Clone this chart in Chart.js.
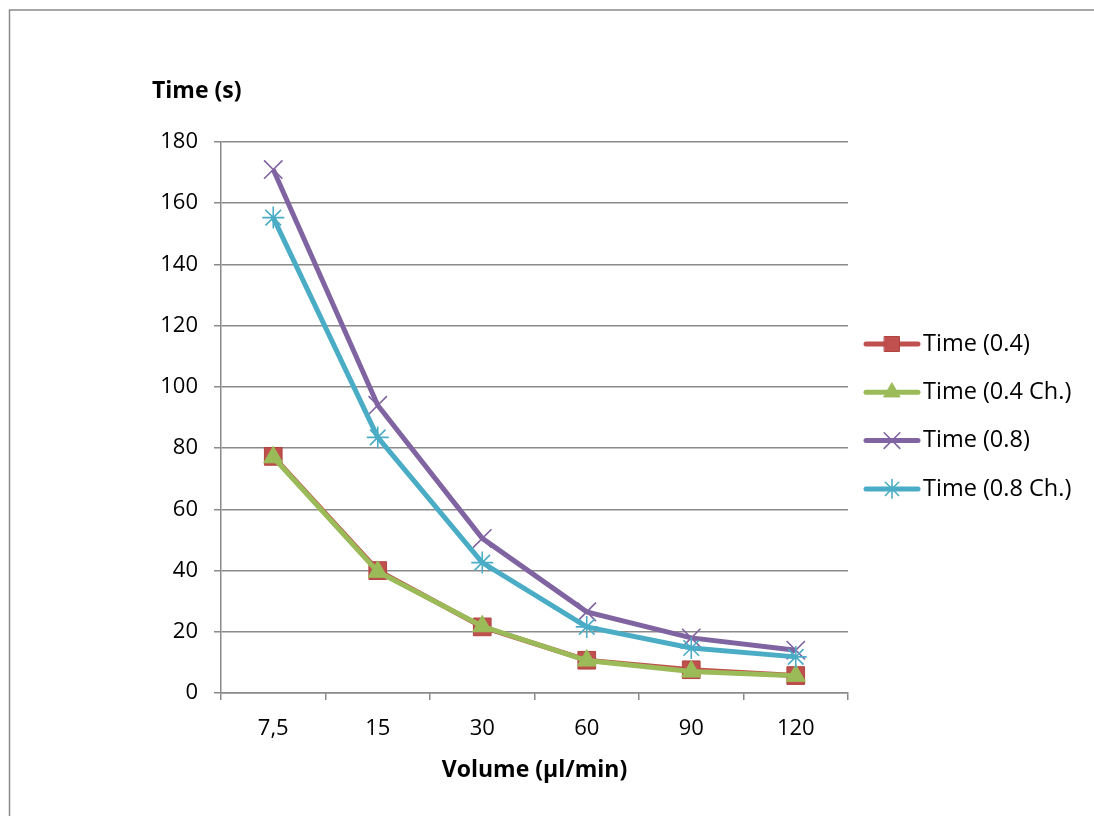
<!DOCTYPE html>
<html>
<head>
<meta charset="utf-8">
<script src="https://cdn.jsdelivr.net/npm/chart.js@4/dist/chart.umd.min.js"></script>
<style>
  html, body { margin: 0; padding: 0; background: #fff; }
  #wrap { width: 1094px; height: 816px; }
</style>
</head>
<body>
<div id="wrap"><canvas id="myChart-time" width="1094" height="816"></canvas></div>
<script>
const volumes = ["7,5", "15", "30", "60", "90", "120"];
const time04 = [77.3, 40, 21.6, 10.7, 7.6, 5.7];
const time04ch = [77, 39.6, 21.8, 10.6, 7.0, 5.6];
const time08 = [171, 94, 50.5, 26.5, 18, 14];
const time08ch = [155.3, 83.5, 42.6, 21.6, 14.7, 11.8];
const yTicks = [0, 20, 40, 60, 80, 100, 120, 140, 160, 180];

const FONT = "'Open Sans', 'DejaVu Sans', sans-serif";

const series = [
  { label: "Time (0.4)", data: time04, color: "#C0504D", border: "#B04440", style: "rect", radius: 12.5, width: 1, order: 4 },
  { label: "Time (0.4 Ch.)", data: time04ch, color: "#9BBB59", border: "#9BBB59", style: "triangle", radius: 11, width: 1, order: 3 },
  { label: "Time (0.8)", data: time08, color: "#8064A2", border: "#8064A2", style: "crossRot", radius: 13, width: 1.6, order: 2 },
  { label: "Time (0.8 Ch.)", data: time08ch, color: "#4BACC6", border: "#4BACC6", style: "star", radius: 11, width: 1.6, order: 1 },
];

// frame, axis titles and the Excel-like legend
const decor = {
  id: "decor",
  beforeDraw(chart) {
    const ctx = chart.ctx;
    ctx.save();
    ctx.strokeStyle = "#8a8a8a";
    ctx.lineWidth = 1.5;
    ctx.beginPath();
    ctx.moveTo(9.5, 816);
    ctx.lineTo(9.5, 10);
    ctx.lineTo(1094, 10);
    ctx.stroke();
    ctx.restore();
  },
  afterDraw(chart) {
    const ctx = chart.ctx;
    const area = chart.chartArea;
    ctx.save();
    ctx.fillStyle = "#000";
    ctx.font = "bold 23px " + FONT;
    ctx.textBaseline = "middle";
    ctx.textAlign = "left";
    ctx.fillText("Time (s)", 152, 91);
    ctx.textAlign = "center";
    ctx.fillText("Volume (µl/min)", (area.left + area.right) / 2, 770);

    ctx.font = "23.5px " + FONT;
    ctx.textAlign = "left";
    series.forEach((s, i) => {
      const y = 344 + i * 48.3;
      ctx.strokeStyle = s.color;
      ctx.lineWidth = 5;
      ctx.lineCap = "round";
      ctx.beginPath();
      ctx.moveTo(866, y);
      ctx.lineTo(918, y);
      ctx.stroke();
      ctx.fillStyle = s.color;
      ctx.strokeStyle = s.border;
      ctx.lineWidth = s.width;
      Chart.helpers.drawPoint(ctx, { pointStyle: s.style, radius: s.radius * 0.85, rotation: 0, borderWidth: s.width }, 892, y);
      ctx.fillStyle = "#000";
      ctx.fillText(s.label, 923, y);
    });
    ctx.restore();
  },
};

new Chart(document.getElementById("myChart-time"), {
  type: "line",
  data: {
    labels: volumes,
    datasets: series.map((s) => ({
      label: s.label,
      data: s.data,
      order: s.order,
      borderColor: s.color,
      backgroundColor: s.color,
      borderWidth: 5,
      pointStyle: s.style,
      pointRadius: s.radius,
      pointBorderColor: s.border,
      pointBackgroundColor: s.color,
      pointBorderWidth: s.width,
      tension: 0,
    })),
  },
  options: {
    responsive: false,
    animation: false,
    events: [],
    layout: { padding: { top: 142, right: 246, left: 0, bottom: 0 } },
    plugins: {
      legend: { display: false },
      tooltip: { enabled: false },
    },
    scales: {
      x: {
        offset: true,
        afterFit(scale) { scale.height = 123; },
        border: { color: "#8a8a8a", width: 1.5 },
        grid: { offset: true, drawOnChartArea: false, color: "#8a8a8a", lineWidth: 1.5, tickLength: 7 },
        ticks: { color: "#000", font: { family: FONT, size: 22 }, padding: 16 },
      },
      y: {
        min: 0,
        max: 180,
        afterFit(scale) { scale.width = 221; },
        afterBuildTicks(scale) { scale.ticks = yTicks.map((v) => ({ value: v })); },
        border: { color: "#8a8a8a", width: 1.5 },
        grid: { color: "#8a8a8a", lineWidth: 1.5, tickLength: 7 },
        ticks: { color: "#000", font: { family: FONT, size: 22 }, padding: 16 },
      },
    },
  },
  plugins: [decor],
});
</script>
</body>
</html>
